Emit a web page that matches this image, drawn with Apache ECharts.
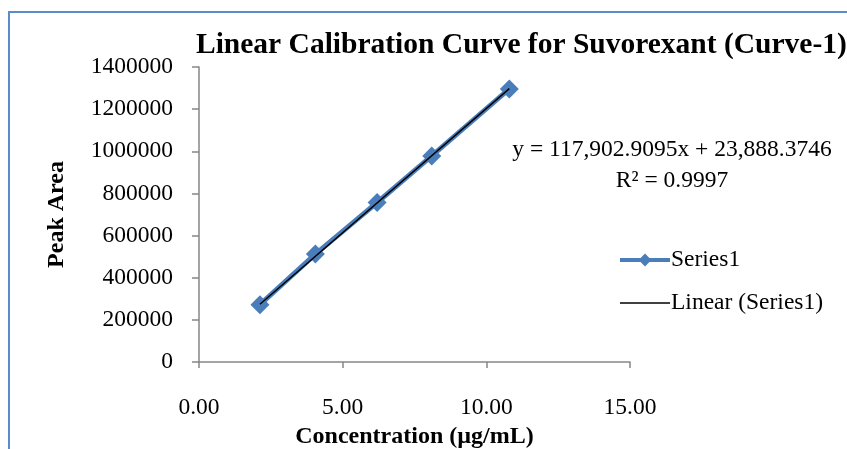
<!DOCTYPE html>
<html>
<head>
<meta charset="utf-8">
<script src="https://cdn.jsdelivr.net/npm/echarts@6/dist/echarts.min.js"></script>
<style>
  html, body { margin: 0; padding: 0; background: #fff; }
  #main { width: 847px; height: 449px; }
</style>
</head>
<body>
<div id="main"></div>
<script>
// data
var concentration = [2.12, 4.05, 6.2, 8.1, 10.8];
var peakArea = [272000, 512000, 757000, 978000, 1296000];
// trendline end points (from the fitted equation shown)
var trendX = [2.12, 10.8];
var trendY = [273800, 1297300];
var equationText = 'y = 117,902.9095x + 23,888.3746';
var r2Text = 'R² = 0.9997';

var font = '"Liberation Serif", "DejaVu Serif", serif';

var chartDom = document.getElementById('main');
var myChart = echarts.init(chartDom);
var option = {
    backgroundColor: '#ffffff',
    animation: false,
    title: {
        text: 'Linear Calibration Curve for Suvorexant (Curve-1)',
        left: 191,
        top: 25,
        textStyle: { fontFamily: font, fontSize: 29.5, fontWeight: 'bold', color: '#000' }
    },
    graphic: [
        {
            type: 'rect',
            shape: { x: 9, y: 12, width: 900, height: 500 },
            style: { fill: 'none', stroke: '#5b8bc8', lineWidth: 2 },
            silent: true
        },
        {
            type: 'text',
            x: 672,
            y: 150,
            style: { text: equationText, font: '23.5px ' + font, fill: '#000', align: 'center', verticalAlign: 'middle' }
        },
        {
            type: 'text',
            x: 672,
            y: 181,
            style: { text: r2Text, font: '23.5px ' + font, fill: '#000', align: 'center', verticalAlign: 'middle' }
        }
    ],
    legend: {
        orient: 'vertical',
        left: 613,
        top: 243,
        itemWidth: 50,
        itemHeight: 16,
        itemGap: 19,
        textStyle: { fontFamily: font, fontSize: 23.5, color: '#000', padding: [0, 0, 0, -4] },
        data: [
            { name: 'Series1', lineStyle: { width: 4 } },
            { name: 'Linear (Series1)', icon: 'path://M0,0 L50,0 L50,1.5 L0,1.5 Z', itemStyle: { color: '#000' } }
        ]
    },
    grid: {
        left: 199,
        right: 217,
        top: 67,
        bottom: 87,
        containLabel: false,
        outerBoundsMode: 'none'
    },
    xAxis: {
        type: 'value',
        min: 0,
        max: 15,
        interval: 5,
        name: 'Concentration (µg/mL)',
        nameLocation: 'middle',
        nameGap: 62,
        nameTextStyle: { fontFamily: font, fontSize: 24, fontWeight: 'bold', color: '#000' },
        axisLine: { show: true, lineStyle: { color: '#868686', width: 1.5 } },
        axisTick: { show: true, length: 6, lineStyle: { color: '#868686', width: 1.5 } },
        axisLabel: {
            margin: 34,
            fontFamily: font, fontSize: 23.5, color: '#000',
            formatter: function (v) { return v.toFixed(2); }
        },
        splitLine: { show: false }
    },
    yAxis: {
        type: 'value',
        min: 0,
        max: 1400000,
        interval: 200000,
        name: 'Peak Area',
        nameLocation: 'middle',
        nameGap: 130,
        nameTextStyle: { fontFamily: font, fontSize: 24, fontWeight: 'bold', color: '#000' },
        axisLine: { show: true, lineStyle: { color: '#868686', width: 1.5 } },
        axisTick: { show: true, length: 7, lineStyle: { color: '#868686', width: 1.5 } },
        axisLabel: {
            margin: 26, fontFamily: font, fontSize: 23.5, color: '#000',
            formatter: function (v) { return String(v); }
        },
        splitLine: { show: false }
    },
    series: [
        {
            name: 'Series1',
            type: 'line',
            data: concentration.map(function (x, i) { return [x, peakArea[i]]; }),
            symbol: 'diamond',
            symbolSize: 19,
            lineStyle: { color: '#4a7ebb', width: 5 },
            itemStyle: { color: '#4a7ebb' },
            z: 2
        },
        {
            name: 'Linear (Series1)',
            type: 'line',
            data: trendX.map(function (x, i) { return [x, trendY[i]]; }),
            symbol: 'none',
            lineStyle: { color: '#000', width: 1.5 },
            itemStyle: { color: '#000' },
            z: 3
        }
    ]
};
option && myChart.setOption(option);
</script>
</body>
</html>
